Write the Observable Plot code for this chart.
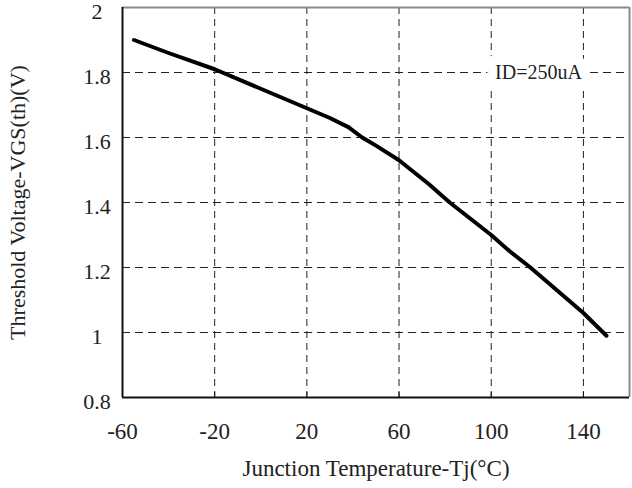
<!DOCTYPE html>
<html><head><meta charset="utf-8">
<script src="https://cdn.jsdelivr.net/npm/d3@7"></script>
<script src="https://cdn.jsdelivr.net/npm/@observablehq/plot@0.6"></script>
<style>html,body{margin:0;padding:0;background:#fff} svg{display:block}</style>
</head><body><div id="chart"></div>
<script>
const tempC = [-55, -40, -20, 0, 20, 30, 38, 44, 50, 60, 73, 82, 100, 108, 117, 140, 150];
const vgsTh = [1.90, 1.86, 1.81, 1.75, 1.69, 1.66, 1.632, 1.60, 1.575, 1.53, 1.456, 1.40, 1.30, 1.25, 1.20, 1.06, 0.99];
const xTicks = [-60, -20, 20, 60, 100, 140];
const xTickLabels = ["-60", "-20", "20", "60", "100", "140"];
const xGrid = [-20, 20, 60, 100, 140];
const yTicks = [0.8, 1, 1.2, 1.4, 1.6, 1.8, 2];
const yTickLabels = ["0.8", "1", "1.2", "1.4", "1.6", "1.8", "2"];
const yGrid = [1, 1.2, 1.4, 1.6, 1.8];
const xTitle = "Junction Temperature-Tj(°C)";
const yTitle = "Threshold Voltage-VGS(th)(V)";
const noteText = ["ID=250uA"];
const noteX = [120.5];
const noteY = [1.8];

const data = tempC.map((t, i) => ({t, v: vgsTh[i]}));
const notes = noteText.map((s, i) => ({s, x: noteX[i], y: noteY[i]}));

const chart = Plot.plot({
  width: 632,
  height: 488,
  marginLeft: 122,
  marginRight: 3,
  marginTop: 7,
  marginBottom: 91,
  x: {domain: [-60, 160]},
  y: {domain: [0.8, 2]},
  style: {fontFamily: "'Liberation Serif', 'DejaVu Serif', serif", fontSize: "22px", color: "#222", background: "#fff"},
  marks: [
    Plot.ruleX(xGrid, {stroke: "#222", strokeWidth: 1, strokeDasharray: "7,5"}),
    Plot.ruleY(yGrid, {stroke: "#222", strokeWidth: 1, strokeDasharray: "8,5"}),
    Plot.ruleY([2], {stroke: "#8a8a8a", strokeWidth: 2}),
    Plot.ruleX([160], {stroke: "#8a8a8a", strokeWidth: 2}),
    Plot.ruleX([-60], {stroke: "#111", strokeWidth: 2}),
    Plot.ruleY([0.8], {stroke: "#111", strokeWidth: 2}),
    Plot.text(notes, {x: "x", y: "y", text: "s", fill: "#222", stroke: "#fff", strokeWidth: 20, fontSize: 20}),
    Plot.line(data, {x: "t", y: "v", stroke: "#000", strokeWidth: 4, strokeLinejoin: "round", strokeLinecap: "round"}),
    Plot.axisX({ticks: xTicks, tickSize: -5, tickFormat: () => "", label: null, stroke: "#111"}),
    Plot.axisX({ticks: xTicks, tickSize: 0, tickPadding: 25, fontSize: 23, tickFormat: d => xTickLabels[xTicks.indexOf(d)],
      label: xTitle, labelAnchor: "center", labelOffset: 78, labelArrow: "none"}),
    Plot.axisY({ticks: yTicks, tickSize: 0, tickPadding: 25.5, textAnchor: "middle", dy: 4, fontSize: 22,
      tickFormat: d => yTickLabels[yTicks.indexOf(d)],
      label: yTitle, labelAnchor: "center", labelOffset: 113, labelArrow: "none"})
  ]
});
document.getElementById("chart").append(chart);
</script>
</body></html>
